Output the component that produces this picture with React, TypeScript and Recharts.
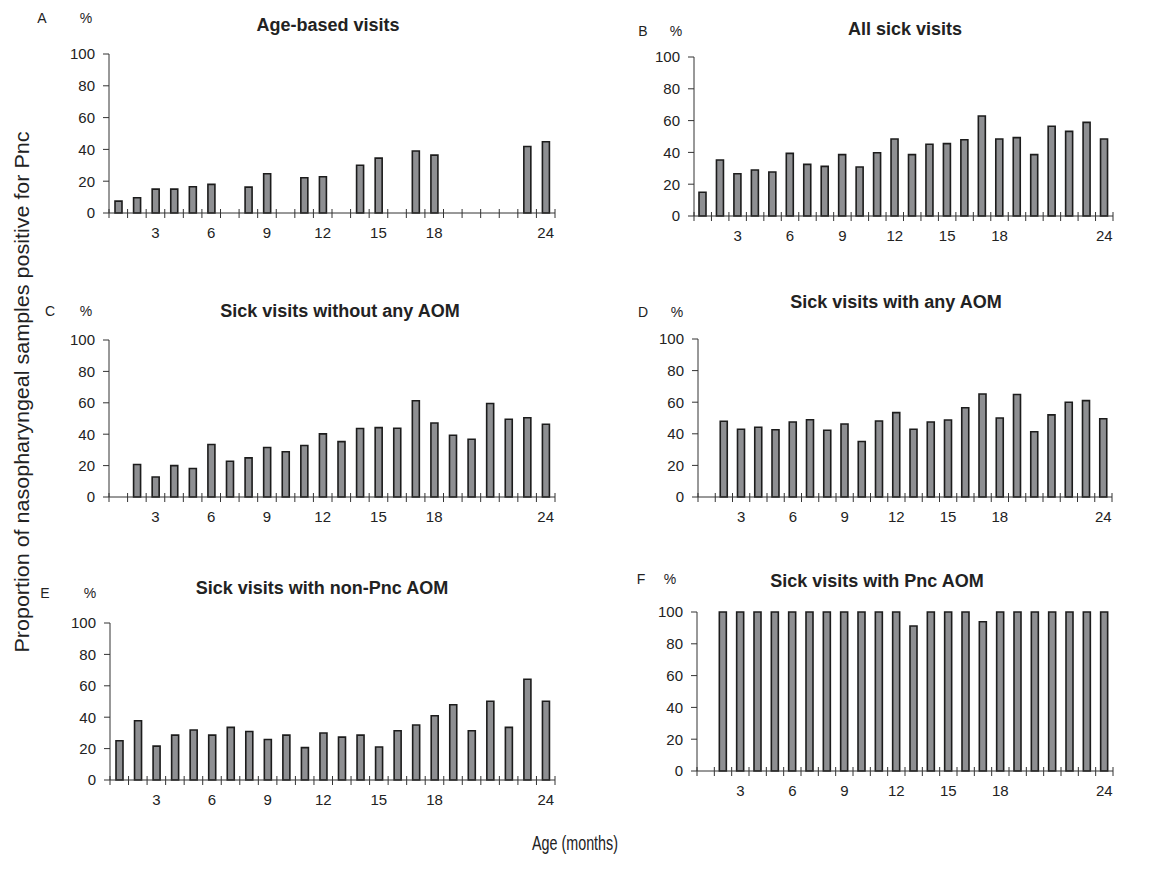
import React from 'react';
import { BarChart, Bar, XAxis, YAxis } from 'recharts';

// Age in months (x categories)
const months = [1, 2, 3, 4, 5, 6, 7, 8, 9, 10, 11, 12, 13, 14, 15, 16, 17, 18, 19, 20, 21, 22, 23, 24];
const monthLabels = [3, 6, 9, 12, 15, 18, 24];
const percentTicks = [0, 20, 40, 60, 80, 100];

// Proportion (%) of nasopharyngeal samples positive for Pnc, per month of age
const ageBased = [7.5, 9.6, 15, 15, 16.5, 18, null, 16.3, 24.7, null, 22.2, 22.8, null, 30, 34.5, null, 39, 36.4, null, null, null, null, 41.8, 44.8];
const allSick = [14.9, 35.2, 26.6, 28.9, 27.7, 39.4, 32.5, 31.2, 38.6, 30.8, 39.8, 48.4, 38.6, 45.1, 45.5, 48, 62.9, 48.4, 49.3, 38.6, 56.4, 53.2, 58.9, 48.4];
const sickNoAom = [null, 20.7, 12.7, 20, 18.2, 33.4, 22.8, 24.9, 31.5, 28.8, 32.8, 40.2, 35.3, 43.6, 44.2, 43.8, 61.3, 47.1, 39.3, 36.8, 59.6, 49.5, 50.5, 46.3];
const sickAnyAom = [null, 47.9, 42.9, 44.1, 42.6, 47.5, 48.9, 42.2, 46.2, 35.1, 48.1, 53.4, 42.9, 47.5, 48.7, 56.5, 65.2, 50, 64.9, 41.3, 52, 60, 61, 49.5];
const sickNonPncAom = [25, 37.7, 21.6, 28.6, 31.8, 28.6, 33.5, 30.9, 25.8, 28.6, 20.6, 29.9, 27.3, 28.6, 21, 31.4, 35, 40.9, 47.9, 31.4, 50.2, 33.5, 64.2, 50.2];
const sickPncAom = [null, 100, 100, 100, 100, 100, 100, 100, 100, 100, 100, 100, 91.2, 100, 100, 100, 93.9, 100, 100, 100, 100, 100, 100, 100];

const FONT = '"Liberation Sans", Arial, Helvetica, sans-serif';
const NARROW = '"Liberation Sans Narrow", "Liberation Sans", Arial, sans-serif';
const INK = '#222';

// category boundaries (between-tick-mark style) plus the labelled months
const boundaryTicks = Array.from({ length: months.length + 1 }, (_, i) => i + 0.5);
const xTicks = [...boundaryTicks, ...monthLabels];

type Panel = {
  letter: string;
  title: string;
  values: (number | null)[];
  plot: { left: number; right: number; top: number; bottom: number };
  titlePos: [number, number];
  letterPos: [number, number];
  pctPos: [number, number];
};

const panels: Panel[] = [
  { letter: 'A', title: 'Age-based visits', values: ageBased,
    plot: { left: 109, right: 555, top: 54, bottom: 213 }, titlePos: [328, 25], letterPos: [42, 18], pctPos: [86, 18] },
  { letter: 'B', title: 'All sick visits', values: allSick,
    plot: { left: 694, right: 1113, top: 57, bottom: 216 }, titlePos: [905, 29], letterPos: [643, 31], pctPos: [676, 31] },
  { letter: 'C', title: 'Sick visits without any AOM', values: sickNoAom,
    plot: { left: 109, right: 555, top: 340, bottom: 497 }, titlePos: [340, 311], letterPos: [50, 311], pctPos: [86, 311] },
  { letter: 'D', title: 'Sick visits with any AOM', values: sickAnyAom,
    plot: { left: 698, right: 1112, top: 339, bottom: 497 }, titlePos: [896, 302], letterPos: [643, 312], pctPos: [677, 312] },
  { letter: 'E', title: 'Sick visits with non-Pnc AOM', values: sickNonPncAom,
    plot: { left: 110, right: 555, top: 623, bottom: 780 }, titlePos: [322, 588], letterPos: [45, 593], pctPos: [90, 593] },
  { letter: 'F', title: 'Sick visits with Pnc AOM', values: sickPncAom,
    plot: { left: 697, right: 1113, top: 612, bottom: 771 }, titlePos: [877, 581], letterPos: [641, 579], pctPos: [670, 579] },
];

const MonthTick = (props: any) => {
  const { x, y, payload } = props;
  const v = payload.value as number;
  if (v % 1 !== 0) {
    return <line x1={x} x2={x} y1={y - 4} y2={y + 5} stroke="#333" strokeWidth={1} />;
  }
  return (
    <text x={x} y={y + 25} textAnchor="middle" fontSize={15} fontFamily={FONT} fill={INK}>
      {v}
    </text>
  );
};

const Y_W = 50;
const M_TOP = 10;
const M_RIGHT = 8;
const X_H = 32;

const PanelChart = ({ p }: { p: Panel }) => {
  const data = months.map((m, i) => ({ m, v: p.values[i] }));
  const plotW = p.plot.right - p.plot.left;
  const plotH = p.plot.bottom - p.plot.top;
  return (
    <div style={{ position: 'absolute', left: p.plot.left - Y_W, top: p.plot.top - M_TOP }}>
      <BarChart
        width={plotW + Y_W + M_RIGHT}
        height={plotH + M_TOP + X_H}
        data={data}
        margin={{ top: M_TOP, right: M_RIGHT, bottom: 0, left: 0 }}
      >
        <XAxis
          dataKey="m"
          type="number"
          domain={[0.5, 24.5]}
          ticks={xTicks}
          interval={0}
          tick={<MonthTick />}
          tickLine={false}
          tickSize={0}
          tickMargin={0}
          height={X_H}
          axisLine={{ stroke: '#333', strokeWidth: 1 }}
        />
        <YAxis
          type="number"
          domain={[0, 100]}
          ticks={percentTicks}
          width={Y_W}
          tickSize={6}
          tickMargin={8}
          interval={0}
          axisLine={{ stroke: '#333', strokeWidth: 1 }}
          tickLine={{ stroke: '#333', strokeWidth: 1 }}
          tick={{ fontSize: 15, fontFamily: FONT, fill: INK }}
        />
        <Bar dataKey="v" barSize={7} fill="#8e8f92" stroke="#1c1c1c" strokeWidth={1.6} isAnimationActive={false} />
      </BarChart>
    </div>
  );
};

export default function App() {
  return (
    <div style={{ position: 'absolute', left: 0, top: 0, width: 1151, height: 881, background: '#fff', fontFamily: FONT }}>
      {panels.map((p) => (
        <PanelChart key={p.letter} p={p} />
      ))}
      <svg width={1151} height={881} style={{ position: 'absolute', left: 0, top: 0, pointerEvents: 'none' }}>
        {panels.map((p) => (
          <g key={p.letter}>
            <text x={p.titlePos[0]} y={p.titlePos[1]} textAnchor="middle" dominantBaseline="central"
              fontSize={18} fontWeight="bold" fontFamily={FONT} fill={INK}>{p.title}</text>
            <text x={p.letterPos[0]} y={p.letterPos[1]} textAnchor="middle" dominantBaseline="central"
              fontSize={14} fontFamily={FONT} fill={INK}>{p.letter}</text>
            <text x={p.pctPos[0]} y={p.pctPos[1]} textAnchor="middle" dominantBaseline="central"
              fontSize={14} fontFamily={FONT} fill={INK}>%</text>
          </g>
        ))}
        <text x={22} y={392} transform="rotate(-90 22 392)" textAnchor="middle" dominantBaseline="central"
          fontSize={20} fontFamily={NARROW} fill={INK} textLength={521} lengthAdjust="spacingAndGlyphs">
          Proportion of nasopharyngeal samples positive for Pnc
        </text>
        <text x={575} y={843} textAnchor="middle" dominantBaseline="central"
          fontSize={20} fontFamily={NARROW} fill={INK} textLength={86} lengthAdjust="spacingAndGlyphs">
          Age (months)
        </text>
      </svg>
    </div>
  );
}
